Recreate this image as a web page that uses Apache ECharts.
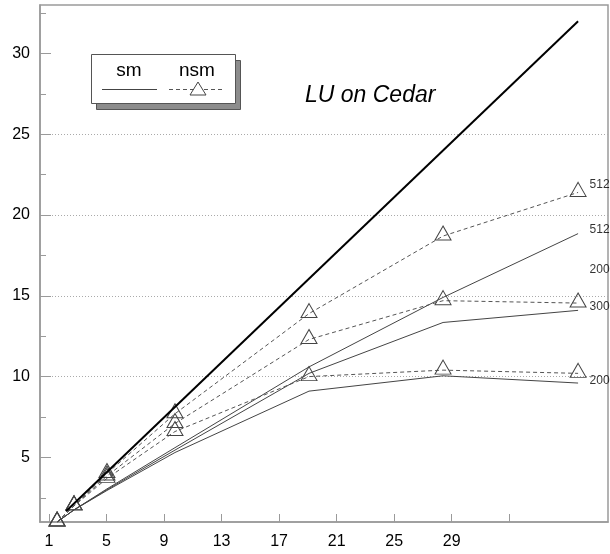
<!DOCTYPE html>
<html>
<head>
<meta charset="utf-8">
<script src="https://cdn.jsdelivr.net/npm/echarts@6/dist/echarts.min.js"></script>
<style>
  html, body { margin: 0; padding: 0; background: #fff; }
  #chart { width: 610px; height: 554px; }
</style>
</head>
<body>
<div id="chart"></div>
<script>
// Runs at 1, 2, 4, 8, 16, 24 and 32 processors, placed on the labelled x scale
const procX = [1.56, 2.74, 5.03, 9.76, 19.08, 28.40, 37.79];

// Speedups, "sm" variant (solid lines)
const smSpeedup512 = [1, 1.75, 3.05, 5.6, 10.6, 14.9, 18.85];
const smSpeedup300 = [1, 1.75, 3.0, 5.45, 10.2, 13.35, 14.1];
const smSpeedup200 = [1, 1.75, 2.95, 5.3, 9.1, 10.05, 9.6];

// Speedups, "nsm" variant (dashed lines with triangles)
const nsmSpeedup512 = [1, 2.0, 4.0, 7.7, 13.9, 18.7, 21.4];
const nsmSpeedup300 = [1, 2.0, 3.85, 7.1, 12.3, 14.7, 14.55];
const nsmSpeedup200 = [1, 2.0, 3.7, 6.6, 10.0, 10.4, 10.2];

// Linear-speedup reference line
const idealX = [2.18, 37.79];
const idealY = [1.67, 32];

// Axis ticks and labels
const xTickValues = [1, 5, 9, 13, 17, 21, 25, 29, 33];
const xLabelValues = [1, 5, 9, 13, 17, 21, 25, 29];
const yLabelValues = [5, 10, 15, 20, 25, 30];
const yMinorValues = [2.5, 7.5, 12.5, 17.5, 22.5, 27.5, 32.5];

// Problem-size annotations at the right end of the curves
const sizeLabels = ['512', '512', '200', '300', '200'];
const sizeLabelY = [21.85, 19.1, 16.6, 14.3, 9.75];

const FONT = '"Liberation Sans", Arial, Helvetica, sans-serif';
const AXIS_GRAY = '#9a9a9a';

function pairs(xs, ys) {
  return xs.map((x, i) => [x, ys[i]]);
}

function smSeries(name, values) {
  return {
    name: name,
    type: 'line',
    data: pairs(procX, values),
    symbol: 'none',
    lineStyle: { color: '#444', width: 1 },
    z: 3
  };
}

function nsmSeries(name, values) {
  return {
    name: name,
    type: 'line',
    data: pairs(procX, values),
    symbol: 'triangle',
    symbolSize: [16, 14],
    symbolOffset: [0, -3],
    showAllSymbol: true,
    itemStyle: { color: 'rgba(255,255,255,0)', borderColor: '#444', borderWidth: 1 },
    lineStyle: { color: '#555', width: 1, type: [4, 3] },
    z: 4
  };
}

const chart = echarts.init(document.getElementById('chart'), null, { renderer: 'canvas' });

chart.setOption({
  animation: false,
  backgroundColor: '#fff',
  grid: {
    left: 40, top: 5, right: 2, bottom: 32,
    show: true,
    borderColor: AXIS_GRAY,
    borderWidth: 1.5,
    backgroundColor: 'transparent'
  },
  xAxis: {
    type: 'value',
    min: 0.374,
    max: 39.87,
    axisLine: { show: true, lineStyle: { color: AXIS_GRAY, width: 1.5 } },
    axisTick: { show: true, inside: true, length: 8, customValues: xTickValues,
                lineStyle: { color: AXIS_GRAY, width: 1 } },
    axisLabel: { customValues: xLabelValues, color: '#000', fontSize: 16, margin: 12, fontFamily: FONT },
    splitLine: { show: false }
  },
  yAxis: [
    {
      type: 'value',
      min: 1,
      max: 33,
      axisLine: { show: true, lineStyle: { color: AXIS_GRAY, width: 1.5 } },
      axisTick: { show: true, inside: true, length: 11, customValues: yLabelValues,
                  lineStyle: { color: AXIS_GRAY, width: 1 } },
      axisLabel: { customValues: yLabelValues, color: '#000', fontSize: 16, margin: 10, fontFamily: FONT },
      splitLine: { show: true, showMinLine: false, showMaxLine: false,
                   lineStyle: { color: '#aaa', width: 1, type: [1, 2] } }
    },
    {
      type: 'value',
      min: 1,
      max: 33,
      position: 'left',
      axisLine: { show: false },
      axisLabel: { show: false },
      splitLine: { show: false },
      axisTick: { show: true, inside: true, length: 6, customValues: yMinorValues,
                  lineStyle: { color: AXIS_GRAY, width: 1 } }
    }
  ],
  series: [
    {
      name: 'ideal',
      type: 'line',
      data: pairs(idealX, idealY),
      symbol: 'none',
      lineStyle: { color: '#000', width: 2 },
      z: 5
    },
    smSeries('sm 512', smSpeedup512),
    smSeries('sm 300', smSpeedup300),
    smSeries('sm 200', smSpeedup200),
    nsmSeries('nsm 512', nsmSpeedup512),
    nsmSeries('nsm 300', nsmSpeedup300),
    nsmSeries('nsm 200', nsmSpeedup200),
    {
      name: 'sizes',
      type: 'scatter',
      data: sizeLabelY.map(y => [procX[procX.length - 1], y]),
      symbolSize: 1,
      itemStyle: { color: 'rgba(0,0,0,0)' },
      label: {
        show: true,
        position: 'right',
        distance: 11,
        color: '#000',
        fontSize: 12,
        fontFamily: FONT,
        formatter: p => sizeLabels[p.dataIndex]
      },
      z: 6
    }
  ],
  graphic: [
    {
      type: 'text',
      left: 305,
      top: 84,
      style: {
        text: 'LU on Cedar',
        fontSize: 23,
        fontStyle: 'italic',
        fontFamily: FONT,
        fill: '#000'
      }
    },
    {
      type: 'group',
      left: 91,
      top: 54,
      children: [
        { type: 'rect', shape: { x: 5.5, y: 6.5, width: 144, height: 49 },
          style: { fill: '#8c8c8c', stroke: '#555', lineWidth: 1 } },
        { type: 'rect', shape: { x: 0.5, y: 0.5, width: 144, height: 49 },
          style: { fill: '#fff', stroke: '#555', lineWidth: 1 } },
        { type: 'text', style: { x: 38, y: 17, text: 'sm', fontSize: 19, fontFamily: FONT,
          fill: '#000', align: 'center', verticalAlign: 'middle' } },
        { type: 'text', style: { x: 106, y: 17, text: 'nsm', fontSize: 19, fontFamily: FONT,
          fill: '#000', align: 'center', verticalAlign: 'middle' } },
        { type: 'line', shape: { x1: 11, y1: 35.5, x2: 66, y2: 35.5 },
          style: { stroke: '#444', lineWidth: 1 } },
        { type: 'line', shape: { x1: 78, y1: 35.5, x2: 132, y2: 35.5 },
          style: { stroke: '#555', lineWidth: 1, lineDash: [4, 3] } },
        { type: 'polygon', shape: { points: [[107, 28], [99, 41], [115, 41]] },
          style: { fill: '#fff', stroke: '#444', lineWidth: 1 } }
      ]
    }
  ]
});
</script>
</body>
</html>
